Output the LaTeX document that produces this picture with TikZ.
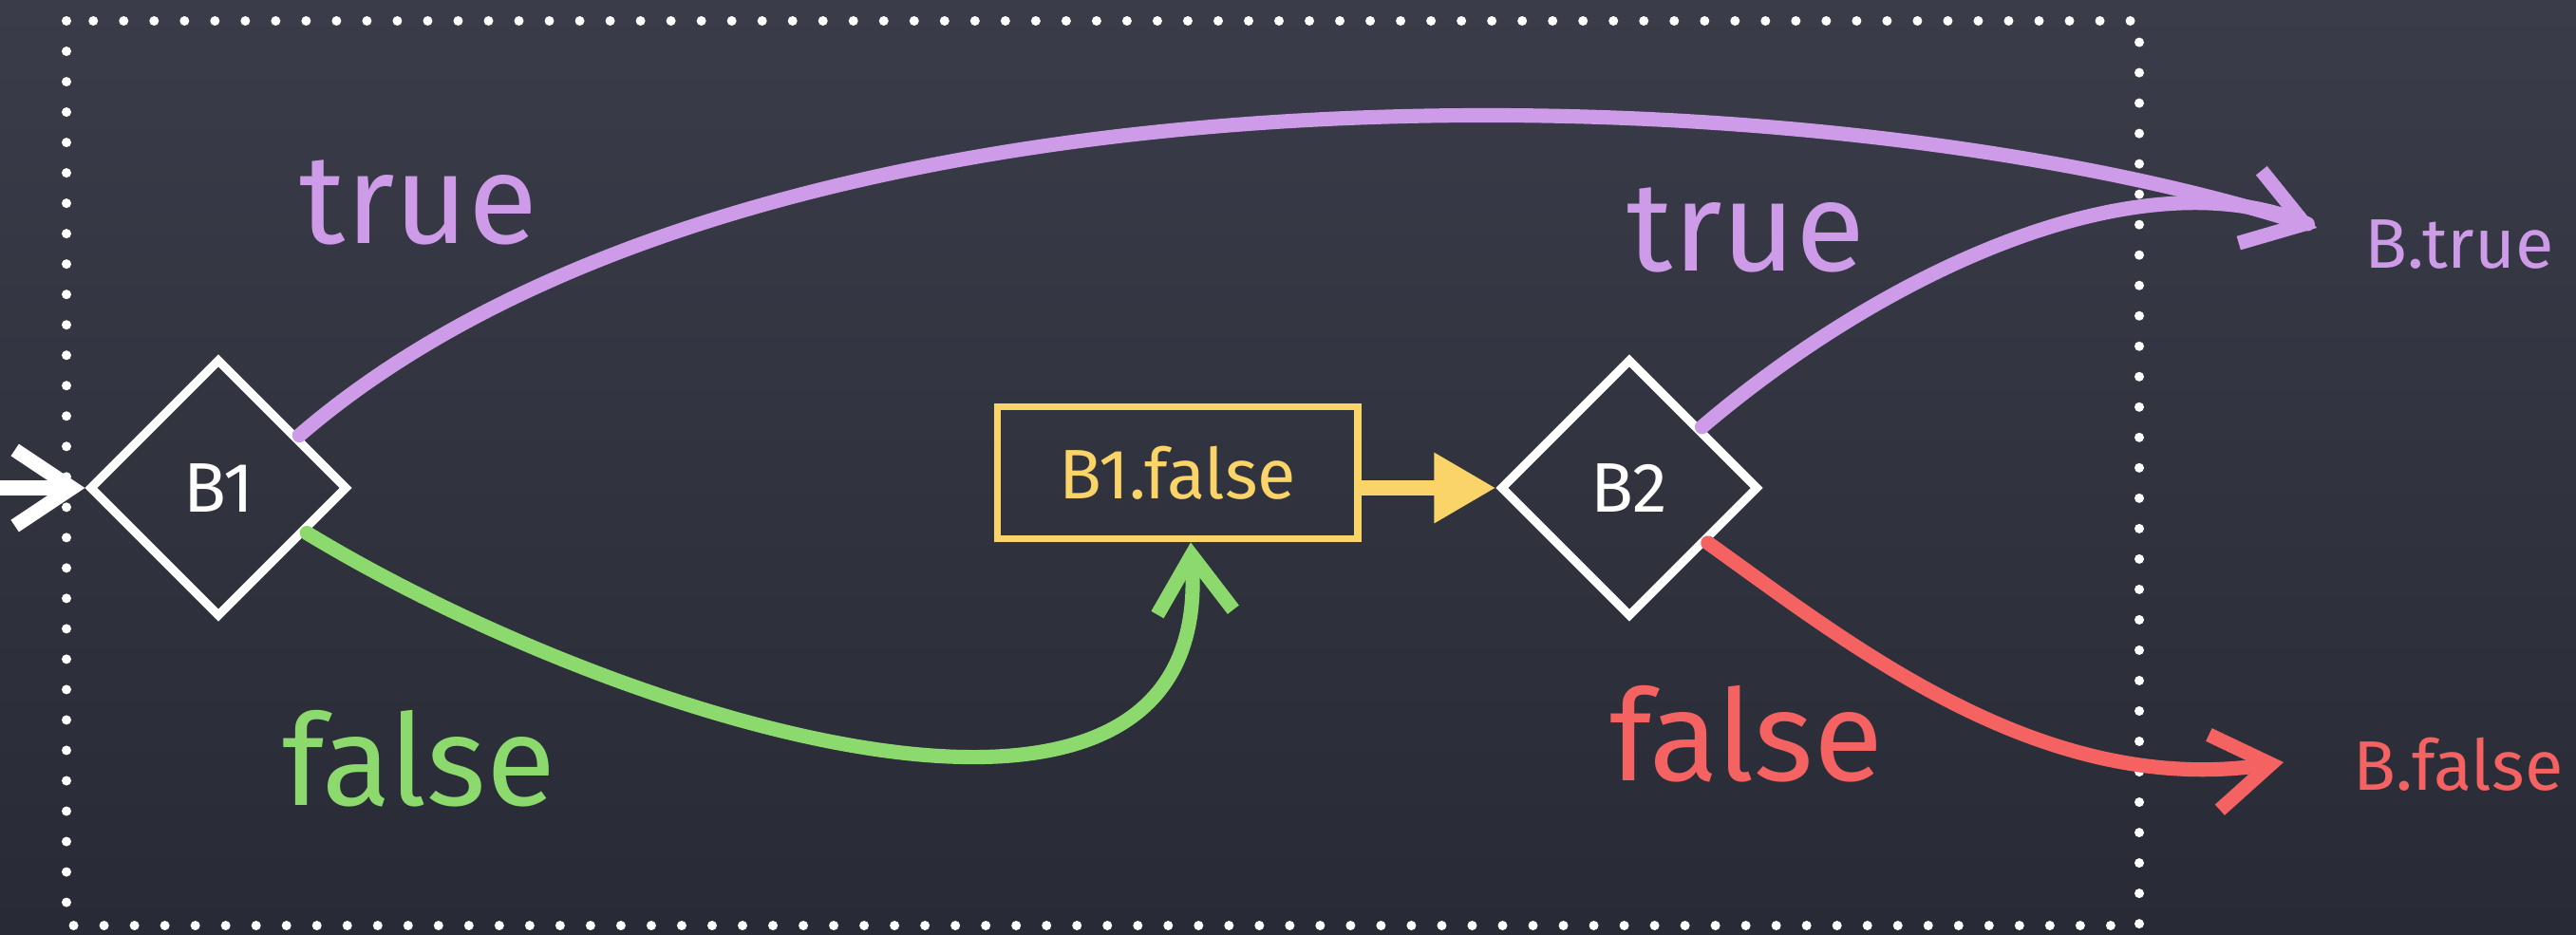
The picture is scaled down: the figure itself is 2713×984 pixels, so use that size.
\documentclass[tikz,border=0pt]{standalone}
\usepackage{fontspec}
\setmainfont{Fira Sans}
\usepackage{tikz}
\usetikzlibrary{shapes.geometric,arrows.meta,positioning}

\definecolor{boardtop}{RGB}{58,61,73}
\definecolor{boardbottom}{RGB}{40,43,53}
\definecolor{chalkpurple}{RGB}{205,155,232}
\definecolor{chalkgreen}{RGB}{140,218,110}
\definecolor{chalkyellow}{RGB}{250,212,105}
\definecolor{chalkred}{RGB}{245,98,98}

\tikzset{
  cond/.style={diamond,draw=white,line width=2.6pt,aspect=1,inner sep=0pt,
    minimum size=2.72cm,text=white,font=\fontsize{21}{24}\selectfont},
  chalk/.style={line width=4.3pt,line cap=round,
    -{Straight Barb[length=0.6cm,width=0.8cm]}},
  biglabel/.style={anchor=base,font=\fontsize{38}{44}\selectfont},
  smalllabel/.style={anchor=base west,inner sep=0pt,font=\fontsize{21}{24}\selectfont},
}

\begin{document}
\begin{tikzpicture}[x=0.01cm,y=-0.01cm]
    \shade[top color=boardtop,bottom color=boardbottom] (0,0) rectangle (2713,984);
    \useasboundingbox (0,0) rectangle (2713,984);
    \draw[white,line width=0.1cm,line cap=round,dash pattern=on 0pt off 0.32cm]
        (70,22) rectangle (2253,975);

    \coordinate (entry) at (0,514);
    \coordinate (btrue) at (2440,240);
    \coordinate (bfalse) at (2405,803);
    \node[cond] (B1) at (230,514) {B1};
    \node[cond] (B2) at (1716,514) {B2};
    \node[draw=chalkyellow,line width=2.2pt,text=chalkyellow,minimum width=3.79cm,
        minimum height=1.39cm,font=\fontsize{21}{24}\selectfont] (B1f) at (1240,498) {B1.false};

    % entry and the two exits of B1
    \draw[chalk,white] (entry) to (B1.west);
    \draw[chalk,chalkpurple] (B1.33) .. controls (800,40) and (1900,70) .. (btrue);
    \draw[chalk,chalkgreen] (B1.-27) .. controls (650,760) and (1280,960) .. ([xshift=0.14cm]B1f.south);
    \draw[line width=4.5pt,chalkyellow,-{Triangle[length=0.65cm,width=0.7cm]}] (B1f.east |- B2.west) to (B2.west);

    % exits of B2
    \draw[line width=4.3pt,line cap=round,chalkpurple,shorten >=3pt] (B2.40) .. controls (1980,290) and (2250,160) .. (btrue);
    \draw[chalk,chalkred] (B2.-35) .. controls (1950,680) and (2150,840) .. (bfalse);

    \node[biglabel,text=chalkpurple] (t1) at (441,256) {true};
    \node[biglabel,text=chalkpurple] (t2) at (1839,285) {true};
    \node[biglabel,text=chalkgreen] (f1) at (441,848) {false};
    \node[biglabel,text=chalkred] (f2) at (1839,822) {false};
    \node[smalllabel,text=chalkpurple] (btruelabel) at (2490,282) {B.true};
    \node[smalllabel,text=chalkred] (bfalselabel) at (2478,832) {B.false};
\end{tikzpicture}
\end{document}
